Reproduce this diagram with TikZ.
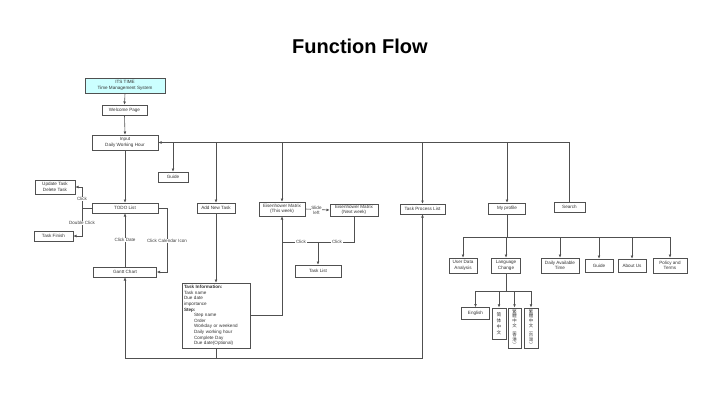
\documentclass[tikz,border=0pt]{standalone}
\usepackage{fontspec}
\setmainfont{Liberation Sans}
\newfontfamily\cjksc{Noto Sans CJK SC}
\newfontfamily\cjktc{Noto Sans CJK TC}
\usetikzlibrary{arrows.meta}
\definecolor{ln}{HTML}{505050}
\definecolor{cy}{HTML}{CCFFFF}
\tikzset{
  box/.style={draw=ln, line width=0.6pt, fill=white, text=black!80, align=center,
    inner sep=0.5pt, font=\fontsize{4.6}{5.4}\selectfont},
  cn/.style={draw=ln, line width=0.6pt},
  arr/.style={draw=ln, line width=0.6pt, -{Latex[length=3.2pt,width=2.8pt]}},
  lbl/.style={fill=white, text=black!75, inner sep=0.6pt, align=center,
    font=\fontsize{4.6}{5.2}\selectfont},
  vbox/.style={box, inner sep=1pt}
}
\begin{document}
\begin{tikzpicture}[x=1pt,y=-1pt]
\useasboundingbox (0,0) rectangle (720,405);
\fill[white] (0,0) rectangle (720,405);
\node[font=\bfseries\fontsize{20}{24}\selectfont] (title) at (360,46) {Function Flow};

% main column
\node[box, fill=cy, minimum width=80pt, minimum height=15pt] (its) at (125,85.5) {ITS TIME\\Time Management System};
\node[box, minimum width=45pt, minimum height=10pt] (welcome) at (124.5,110) {Welcome Page};
\node[box, minimum width=66pt, minimum height=15pt] (input) at (125,142.5) {Input\\Daily Working Hour};
\node[box, minimum width=66pt, minimum height=10pt] (todo) at (125,208) {TODO List};
\node[box, minimum width=63pt, minimum height=10pt] (gantt) at (125,272) {Gantt Chart};
\node[box, minimum width=40pt, minimum height=14pt] (update) at (55,187) {Update Task\\Delete Task};
\node[box, minimum width=39pt, minimum height=10pt] (finish) at (53.5,236) {Task Finish};

% top row
\node[box, minimum width=30pt, minimum height=10pt] (guide1) at (173,177) {Guide};
\node[box, minimum width=38pt, minimum height=10pt] (addtask) at (216,208) {Add New Task};
\node[box, minimum width=46pt, minimum height=14pt] (eis1) at (282,209) {Eisenhower Matrix\\(This week)};
\node[box, minimum width=48pt, minimum height=12pt] (eis2) at (354,210) {Eisenhower Matrix\\(Next week)};
\node[box, minimum width=45pt, minimum height=10pt] (tpl) at (422.5,209) {Task Process List};
\node[box, minimum width=37pt, minimum height=11pt] (profile) at (507,208.5) {My profile};
\node[box, minimum width=31pt, minimum height=10pt] (search) at (569.5,207) {Search};

\node[box, align=left, inner sep=2pt, text width=64pt, minimum height=65pt,
  font=\fontsize{4.6}{5.6}\selectfont] (taskinfo) at (216,315.5)
  {\textbf{Task Information:}\\Task name\\Due date\\importance\\\textbf{Step:}\\
   \hspace*{10pt}Step name\\\hspace*{10pt}Order\\\hspace*{10pt}Workday or weekend\\
   \hspace*{10pt}Daily working hour\\\hspace*{10pt}Complete Day\\\hspace*{10pt}Due date(Optional)};
\node[box, minimum width=46pt, minimum height=12pt] (tasklist) at (318,271) {Task List};

% profile sub-items
\node[box, minimum width=28pt, minimum height=15pt] (uda) at (463,265.5) {User Data\\Analysis};
\node[box, minimum width=29pt, minimum height=15pt] (lang) at (506,265.5) {Language\\Change};
\node[box, minimum width=38pt, minimum height=15pt] (dat) at (560,265.5) {Daily Available\\Time};
\node[box, minimum width=28pt, minimum height=13pt] (guide2) at (599,265.5) {Guide};
\node[box, minimum width=28pt, minimum height=13pt] (about) at (632,265.5) {About Us};
\node[box, minimum width=34pt, minimum height=15pt] (policy) at (670,265.5) {Policy and\\Terms};

\node[box, minimum width=28pt, minimum height=12pt] (english) at (475.5,313.5) {English};
\node[vbox, anchor=north, minimum width=14pt, minimum height=31pt,
  font=\cjksc\fontsize{4.6}{6}\selectfont] (zhs) at (499,307.5)
  {简\\体\\中\\文};
\node[vbox, anchor=north, minimum width=13pt, minimum height=40pt,
  font=\cjktc\fontsize{4.4}{4.7}\selectfont] (zhhk) at (514.5,307.5)
  {繁\\體\\中\\文\\︵\\香\\港\\︶};
\node[vbox, anchor=north, minimum width=14pt, minimum height=40pt,
  font=\cjktc\fontsize{4.4}{4.7}\selectfont] (zhtw) at (531,307.5)
  {繁\\體\\中\\文\\︵\\台\\灣\\︶};

% connectors: main column
\draw[arr] (its.south) -- (welcome.north);
\draw[arr] (welcome.south) -- (input.north);
\draw[arr] (input.south) -- (todo.north);

% top bus
\draw[arr] (search.north) |- (input.east);
\draw[arr] (guide1.north |- input.east) -- (guide1.north);
\draw[arr] (addtask.north |- input.east) -- (addtask.north);
\draw[arr] (eis1.north |- input.east) -- (eis1.north);
\draw[arr] (tpl.north |- input.east) -- (tpl.north);
\draw[arr] (profile.north |- input.east) -- (profile.north);

% TODO list left branch
\coordinate (lj) at (82,208);
\draw[cn] (todo.west) -- (lj);
\draw[arr] (lj) |- (update.east);
\draw[arr] (lj) |- (finish.east);
\node[lbl] (lclick) at (82,199) {Click};
\node[lbl] (ldclick) at (82,223) {Double Click};

% TODO / Gantt
\draw[arr] (gantt.north) -- node[lbl] (lcdate) {Click Date} (todo.south);
\coordinate (rj) at (167,208);
\draw[arr] (todo.east) -- (rj) |- (gantt.east);
\node[lbl] (lcal) at (167,241) {Click Calendar Icon};

% Add new task
\draw[arr] (addtask.south) -- (taskinfo.north);
\draw[arr] (taskinfo.east) -| (eis1.south);

% Eisenhower
\draw[arr] (eis1.east) -- (eis2.west);
\node[lbl, font=\fontsize{4.6}{5}\selectfont] (lslide) at (316.5,210) {Slide\\left};
\coordinate (c1) at (282,242);
\coordinate (c2) at (354,242);
\draw[cn] (c1) -- (c2) -- (eis2.south);
\draw[arr] (tasklist.north |- c1) -- (tasklist.north);
\node[lbl] (lck1) at (301,242) {Click};
\node[lbl] (lck2) at (337,242) {Click};

% bottom bus
\coordinate (bot) at (216,358);
\draw[cn] (taskinfo.south) -- (bot);
\draw[arr] (bot) -| (gantt.south);
\draw[arr] (bot) -| (tpl.south);

% profile bus
\coordinate (pb) at (507,237);
\draw[cn] (profile.south) -- (pb);
\draw[cn] (uda.north |- pb) -- (policy.north |- pb);
\foreach \n in {uda,lang,dat,guide2,about,policy}
  \draw[arr] (\n.north |- pb) -- (\n.north);

% language bus
\coordinate (lb) at (506,291);
\draw[cn] (lang.south) -- (lb);
\draw[cn] (english.north |- lb) -- (zhtw.north |- lb);
\foreach \n in {english,zhs,zhhk,zhtw}
  \draw[arr] (\n.north |- lb) -- (\n.north);
\end{tikzpicture}
\end{document}
